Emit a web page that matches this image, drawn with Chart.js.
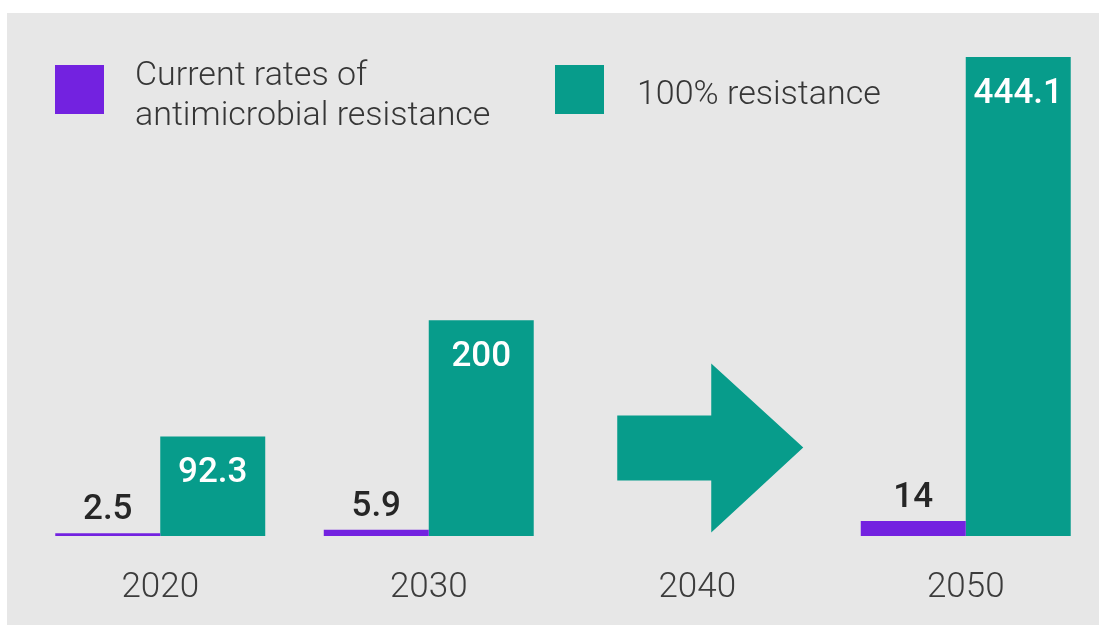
<!DOCTYPE html>
<html>
<head>
<meta charset="utf-8">
<script src="https://cdn.jsdelivr.net/npm/chart.js@4/dist/chart.umd.min.js"></script>
<style>
    html, body { margin: 0; padding: 0; background: #ffffff; overflow: hidden; width: 1099px; height: 625px; }
    #bg { position: absolute; left: 7px; top: 13px; right: 0; bottom: 0; background: #e7e7e7; }
    #wrap { position: absolute; left: 0; top: 0; width: 1110px; height: 654px; }
    #legend { position: absolute; left: 0; top: 0; font-family: Roboto, "Open Sans", sans-serif; font-weight: 300; font-size: 34px; line-height: 40px; color: #363636; }
    .swatch { position: absolute; width: 49px; height: 49px; }
    .lbl { position: absolute; white-space: pre; }
</style>
</head>
<body>
<div id="bg"></div>
<div id="wrap"><canvas id="chartArea"></canvas></div>
<div id="legend"></div>
<script>
'use strict'

// data
const years = ['2020', '2030', '2040', '2050'];
const currentRates = [2.5, 5.9, null, 14];
const fullResistance = [92.3, 200, null, 444.1];
const seriesNames = ['Current rates of\nantimicrobial resistance', '100% resistance'];
const seriesColors = ['#7322e0', '#079c8b'];
const yMax = 483;

// value labels: dark above the purple bars, white inside the teal ones
const valueLabels = {
    id: 'valueLabels',
    afterDatasetsDraw(chart) {
        let ctx = chart.ctx;
        ctx.save();
        ctx.font = '500 35px Roboto, "Open Sans", sans-serif';
        ctx.textAlign = 'center';
        ctx.textBaseline = 'alphabetic';
        chart.data.datasets.forEach((ds, i) => {
            let meta = chart.getDatasetMeta(i);
            meta.data.forEach((bar, k) => {
                let v = ds.data[k];
                if (v == null) return;
                if (i == 0) {
                    ctx.fillStyle = '#262626';
                    ctx.fillText(String(v), bar.x, bar.y - 14);
                } else {
                    ctx.fillStyle = '#ffffff';
                    ctx.fillText(String(v), bar.x, bar.y + 46);
                }
            });
        });
        ctx.restore();
    }
};

// the big arrow in the empty 2040 slot
const arrowPlugin = {
    id: 'arrow',
    beforeDatasetsDraw(chart) {
        let ctx = chart.ctx;
        let xs = chart.scales.x;
        let ys = chart.scales.y;
        let cx = xs.getPixelForValue(2);
        let cy = ys.getPixelForValue(82);
        ctx.save();
        ctx.fillStyle = seriesColors[1];
        ctx.beginPath();
        ctx.moveTo(cx - 80, cy - 32);
        ctx.lineTo(cx + 14, cy - 32);
        ctx.lineTo(cx + 14, cy - 84);
        ctx.lineTo(cx + 106, cy);
        ctx.lineTo(cx + 14, cy + 85);
        ctx.lineTo(cx + 14, cy + 33);
        ctx.lineTo(cx - 80, cy + 33);
        ctx.closePath();
        ctx.fill();
        ctx.restore();
    }
};

let ctx = document.getElementById('chartArea').getContext('2d');
let chart = new Chart(ctx, {
    type: 'bar',
    data: {
        labels: years,
        datasets: [{
            label: seriesNames[0],
            data: currentRates,
            backgroundColor: seriesColors[0]
        }, {
            label: seriesNames[1],
            data: fullResistance,
            backgroundColor: seriesColors[1]
        }]
    },
    options: {
        responsive: true,
        maintainAspectRatio: false,
        animation: false,
        layout: {
            padding: { top: 15, left: 26, right: 10, bottom: 14 }
        },
        datasets: {
            bar: {
                categoryPercentage: 0.782,
                barPercentage: 1.0,
                borderWidth: 0
            }
        },
        plugins: {
            legend: { display: false },
            tooltip: { enabled: false }
        },
        scales: {
            x: {
                grid: { display: false, drawTicks: false },
                border: { display: false },
                ticks: {
                    color: '#3c3c3c',
                    padding: 31,
                    font: { family: 'Roboto, "Open Sans", sans-serif', size: 35, weight: 300 }
                }
            },
            y: {
                display: false,
                min: 0,
                max: yMax
            }
        }
    },
    plugins: [arrowPlugin, valueLabels]
});

// html legend built from the chart's datasets
let legend = document.getElementById('legend');
let swatchX = [55, 555];
let textX = [135, 637];
let textY = [53, 72];
chart.data.datasets.forEach((ds, i) => {
    let sw = document.createElement('div');
    sw.className = 'swatch';
    sw.style.left = swatchX[i] + 'px';
    sw.style.top = '65px';
    sw.style.background = ds.backgroundColor;
    legend.appendChild(sw);

    let t = document.createElement('div');
    t.className = 'lbl';
    t.style.left = textX[i] + 'px';
    t.style.top = textY[i] + 'px';
    t.textContent = ds.label;
    legend.appendChild(t);
});
</script>
</body>
</html>
